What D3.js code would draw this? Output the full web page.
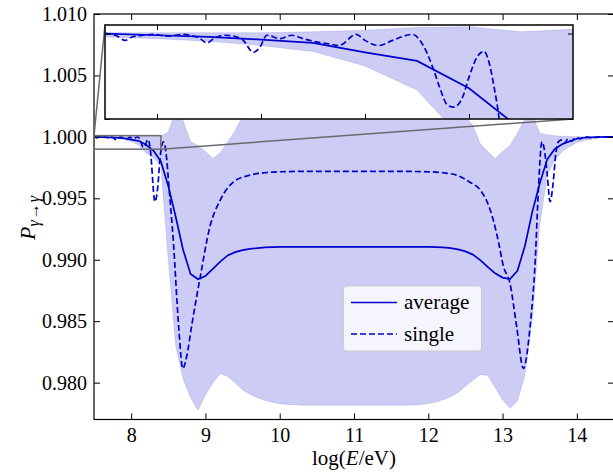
<!DOCTYPE html>
<html>
<meta charset="utf-8">
<style>
  body { margin: 0; background: #fff; }
  svg text { font-family: "Liberation Serif", "DejaVu Serif", serif; fill: #000; }
</style>
<body>
<script src="https://cdn.jsdelivr.net/npm/d3@7"></script>
<script>

// log10 of photon energy (grid used for the average and the band)
var logE = [7.5, 7.6, 7.7, 7.8, 7.9, 8.0, 8.1, 8.2, 8.3, 8.4, 8.5, 8.6, 8.7, 8.8, 8.9,
  9.0, 9.1, 9.2, 9.3, 9.4, 9.5, 9.6, 9.7, 9.8, 9.9, 10.0, 10.1, 10.2, 10.3, 10.4,
  10.5, 10.6, 10.7, 10.8, 10.9, 11.0, 11.1, 11.2, 11.3, 11.4, 11.5, 11.6, 11.7, 11.8, 11.9,
  12.0, 12.1, 12.2, 12.3, 12.4, 12.5, 12.6, 12.7, 12.8, 12.9, 13.0, 13.1, 13.2, 13.3, 13.4,
  13.5, 13.6, 13.7, 13.8, 13.9, 14.0, 14.1, 14.2, 14.3, 14.4, 14.5];

var average = [1.00000, 0.99998, 0.99996, 0.99993, 0.99989, 0.99978, 0.99968, 0.99936, 0.99888, 0.99800,
  0.99600, 0.99350, 0.99079, 0.98885, 0.98842, 0.98868, 0.98925, 0.98985, 0.99035, 0.99062,
  0.99078, 0.99088, 0.99095, 0.99100, 0.99103,
  0.99105, 0.99105, 0.99105, 0.99105, 0.99105, 0.99105, 0.99105, 0.99105, 0.99105, 0.99105,
  0.99105, 0.99105, 0.99105, 0.99105, 0.99105, 0.99105, 0.99105, 0.99105, 0.99105, 0.99105, 0.99105,
  0.99103, 0.99100, 0.99094, 0.99084, 0.99068, 0.99042, 0.98997, 0.98942, 0.98890, 0.98855,
  0.98842, 0.98910, 0.99110, 0.99390, 0.99621, 0.99815, 0.99900, 0.99940, 0.99962, 0.99985,
  0.99993, 0.99997, 0.99999, 1.00000, 1.00000];

var bandHigh = [1.00001, 1.00001, 1.00001, 1.00001, 1.00002, 1.00004, 1.00007, 1.00008, 1.00002, 1.00005,
  1.00040, 1.00210, 1.00130, 0.99960, 0.99930, 0.99880, 0.99825, 0.99870, 0.99960, 1.00050,
  1.00170, 1.00260, 1.00310, 1.00340, 1.00355,
  1.00360, 1.00360, 1.00360, 1.00360, 1.00360, 1.00360, 1.00360, 1.00360, 1.00360, 1.00360,
  1.00360, 1.00360, 1.00360, 1.00360, 1.00360, 1.00360, 1.00360, 1.00360, 1.00360, 1.00360, 1.00360,
  1.00355, 1.00340, 1.00305, 1.00250, 1.00170, 1.00090, 0.99945, 0.99880, 0.99825, 0.99880,
  0.99930, 1.00030, 1.00150, 1.00180, 1.00030, 1.00015, 1.00010, 1.00005, 1.00003, 1.00002,
  1.00002, 1.00002, 1.00002, 1.00002, 1.00002];

var bandLow = [0.99996, 0.99994, 0.99991, 0.99986, 0.99979, 0.99962, 0.99934, 0.99868, 0.99830, 0.99765,
  0.99000, 0.98300, 0.98030, 0.97880, 0.97776, 0.97900, 0.98000, 0.98075, 0.98050, 0.98000,
  0.97940, 0.97905, 0.97878, 0.97856, 0.97840,
  0.97829, 0.97823, 0.97820, 0.97816, 0.97816, 0.97816, 0.97816, 0.97816, 0.97816, 0.97816,
  0.97816, 0.97816, 0.97816, 0.97816, 0.97816, 0.97816, 0.97816, 0.97816, 0.97818, 0.97822, 0.97830,
  0.97842, 0.97860, 0.97885, 0.97920, 0.97970, 0.98020, 0.98065, 0.98060, 0.97960, 0.97860,
  0.97790, 0.97850, 0.98060, 0.98520, 0.99280, 0.99690, 0.99810, 0.99880, 0.99920, 0.99955,
  0.99970, 0.99980, 0.99990, 0.99995, 0.99997];

// single realisation, read on its own (finer) points
var singleE = [7.500, 7.520, 7.539, 7.552, 7.574, 7.593, 7.619, 7.651, 7.683, 7.696,
  7.709, 7.728, 7.747, 7.766, 7.785, 7.798, 7.811, 7.837, 7.859, 7.881,
  7.900, 7.930, 7.950, 7.983, 8.000, 8.027, 8.053, 8.091, 8.110, 8.130,
  8.143, 8.159, 8.171, 8.188, 8.200, 8.216, 8.229, 8.239, 8.248, 8.258,
  8.275, 8.295, 8.310, 8.323, 8.340, 8.360, 8.385, 8.410, 8.435, 8.455,
  8.480, 8.500, 8.570, 8.640, 8.695, 8.750, 8.820, 8.930, 9.060, 9.200,
  9.380, 9.600, 9.800, 10.00, 10.50, 11.00, 11.50, 12.00, 12.20, 12.40,
  12.55, 12.70, 12.80, 12.875, 12.95, 13.01, 13.10, 13.19, 13.28, 13.37,
  13.44, 13.48, 13.53, 13.57, 13.60, 13.64, 13.68, 13.72, 13.75, 13.80,
  13.84, 13.88, 13.93, 13.98, 14.05, 14.12, 14.20, 14.30, 14.40, 14.50];

var singleP = [1.00000, 0.99998, 0.99992, 0.99996, 0.99998, 0.99999, 0.99997, 0.99999, 0.99994, 0.99989,
  0.99994, 0.99998, 0.99997, 0.99992, 0.99978, 0.99984, 0.99998, 0.99994, 0.99998, 0.99994,
  0.99991, 0.99988, 0.99986, 0.99999, 0.99992, 0.99986, 0.99992, 0.99999, 0.99988, 0.99961,
  0.99938, 0.99916, 0.99914, 0.99926, 0.99949, 0.99973, 0.99979, 0.99965, 0.99938, 0.99900,
  0.99780, 0.99600, 0.99500, 0.99472, 0.99510, 0.99600, 0.99800, 0.99920, 0.99960, 0.99930,
  0.99811, 0.99660, 0.99133, 0.98454, 0.98115, 0.98220, 0.98482, 0.98861, 0.99268, 0.99486,
  0.99635, 0.99689, 0.99708, 0.99716, 0.99720, 0.99720, 0.99720, 0.99716, 0.99708, 0.99685,
  0.99635, 0.99567, 0.99460, 0.99323, 0.99130, 0.98950, 0.98807, 0.98454, 0.98115, 0.98454,
  0.98997, 0.99540, 0.99960, 0.99866, 0.99700, 0.99472, 0.99621, 0.99880, 0.99960, 0.99975,
  0.99950, 0.99985, 0.99965, 0.99995, 0.99985, 1.00000, 0.99992, 1.00000, 0.99997, 1.00000];

var xTicks = [8, 9, 10, 11, 12, 13, 14];
var yTicks = [0.980, 0.985, 0.990, 0.995, 1.000, 1.005, 1.010];
var insetXTicks = [7.6, 7.8, 8.0, 8.2];
var insetYTicks = [0.999, 1.000];
var legendLabels = ["average", "single"];

var width = 613, height = 473;
var blue = "#0000cd";

var rows = logE.map(function (e, i) {
  return { e: e, avg: average[i], lo: bandLow[i], hi: bandHigh[i] };
});
var singleRows = singleE.map(function (e, i) { return { e: e, p: singleP[i] }; });

var svg = d3.select("body").append("svg")
  .attr("width", width)
  .attr("height", height);

var defs = svg.append("defs");

var x = d3.scaleLinear().domain([7.5, 14.5]).range([94, 614]);
var y = d3.scaleLinear().domain([0.977, 1.010]).range([419.5, 14]);

var ix = d3.scaleLinear().domain([7.5, 8.4]).range([105, 573]);
var iy = d3.scaleLinear().domain([0.999, 1.0001]).range([119, 25]);

function drawCurves(g, sx, sy, clipId, x0, y0, w, h) {
  defs.append("clipPath").attr("id", clipId)
    .append("rect").attr("x", x0).attr("y", y0).attr("width", w).attr("height", h);
  var layer = g.append("g").attr("clip-path", "url(#" + clipId + ")");

  var band = d3.area()
    .x(function (d) { return sx(d.e); })
    .y0(function (d) { return sy(d.lo); })
    .y1(function (d) { return sy(d.hi); });
  layer.append("path")
    .datum(rows)
    .attr("d", band)
    .attr("fill", blue)
    .attr("fill-opacity", 0.2)
    .attr("stroke", blue)
    .attr("stroke-opacity", 0.12)
    .attr("stroke-width", 1);

  var avgLine = d3.line()
    .x(function (d) { return sx(d.e); })
    .y(function (d) { return sy(d.avg); });
  layer.append("path")
    .datum(rows)
    .attr("d", avgLine)
    .attr("fill", "none")
    .attr("stroke", blue)
    .attr("stroke-width", 1.7);

  var singleLine = d3.line()
    .curve(d3.curveMonotoneX)
    .x(function (d) { return sx(d.e); })
    .y(function (d) { return sy(d.p); });
  layer.append("path")
    .datum(singleRows)
    .attr("d", singleLine)
    .attr("fill", "none")
    .attr("stroke", blue)
    .attr("stroke-width", 1.7)
    .attr("stroke-dasharray", "6,3");
}

// main axes
var main = svg.append("g");
drawCurves(main, x, y, "clipMain", 94, 14, 520, 405.5);

function styleAxis(g) {
  g.select(".domain").remove();
  g.selectAll(".tick line").attr("stroke", "#000").attr("stroke-width", 1);
  g.selectAll(".tick text").style("font-size", "20px");
}

main.append("g")
  .attr("transform", "translate(0,419.5)")
  .call(d3.axisBottom(x).tickValues(xTicks).tickSizeInner(-6).tickSizeOuter(0)
    .tickPadding(8).tickFormat(d3.format("d")))
  .call(styleAxis);
main.append("g")
  .attr("transform", "translate(0,14)")
  .call(d3.axisTop(x).tickValues(xTicks).tickSizeInner(-6).tickSizeOuter(0).tickFormat(""))
  .call(styleAxis);
main.append("g")
  .attr("transform", "translate(94,0)")
  .call(d3.axisLeft(y).tickValues(yTicks).tickSizeInner(-6).tickSizeOuter(0)
    .tickPadding(7).tickFormat(d3.format(".3f")))
  .call(styleAxis);
main.append("g")
  .attr("transform", "translate(614,0)")
  .call(d3.axisRight(y).tickValues(yTicks).tickSizeInner(-6).tickSizeOuter(0).tickFormat(""))
  .call(styleAxis);

main.append("rect")
  .attr("x", 94).attr("y", 14)
  .attr("width", 520).attr("height", 405.5)
  .attr("fill", "none")
  .attr("stroke", "#000")
  .attr("stroke-width", 1.2);

// zoomed region marker and connectors
var grey = "#6a6a6a";
main.append("rect")
  .attr("x", x(7.5)).attr("y", y(1.0001))
  .attr("width", x(8.4) - x(7.5)).attr("height", y(0.999) - y(1.0001))
  .attr("fill", "none")
  .attr("stroke", grey)
  .attr("stroke-width", 1.5);
main.append("line")
  .attr("x1", x(7.5)).attr("y1", y(1.0001))
  .attr("x2", ix(7.5)).attr("y2", iy(1.0001))
  .attr("stroke", grey).attr("stroke-width", 1.5);
main.append("line")
  .attr("x1", x(8.4)).attr("y1", y(0.999))
  .attr("x2", ix(8.4)).attr("y2", iy(0.999))
  .attr("stroke", grey).attr("stroke-width", 1.5);

// inset
var inset = svg.append("g");
inset.append("rect")
  .attr("x", 105).attr("y", 25)
  .attr("width", 468).attr("height", 94)
  .attr("fill", "#fff");
drawCurves(inset, ix, iy, "clipInset", 105, 25, 468, 94);

inset.append("g")
  .attr("transform", "translate(0,119)")
  .call(d3.axisBottom(ix).tickValues(insetXTicks).tickSizeInner(-5).tickSizeOuter(0).tickFormat(""))
  .call(styleAxis);
inset.append("g")
  .attr("transform", "translate(0,25)")
  .call(d3.axisTop(ix).tickValues(insetXTicks).tickSizeInner(-5).tickSizeOuter(0).tickFormat(""))
  .call(styleAxis);
inset.append("g")
  .attr("transform", "translate(105,0)")
  .call(d3.axisLeft(iy).tickValues(insetYTicks).tickSizeInner(-5).tickSizeOuter(0).tickFormat(""))
  .call(styleAxis);
inset.append("g")
  .attr("transform", "translate(573,0)")
  .call(d3.axisRight(iy).tickValues(insetYTicks).tickSizeInner(-5).tickSizeOuter(0).tickFormat(""))
  .call(styleAxis);

inset.append("rect")
  .attr("x", 105).attr("y", 25)
  .attr("width", 468).attr("height", 94)
  .attr("fill", "none")
  .attr("stroke", "#111")
  .attr("stroke-width", 1.6);

// legend
var legend = svg.append("g");
legend.append("rect")
  .attr("x", 343.5).attr("y", 286)
  .attr("width", 138).attr("height", 65)
  .attr("rx", 3)
  .attr("fill", "rgba(255,255,255,0.8)")
  .attr("stroke", "#cccccc")
  .attr("stroke-width", 1);

legend.selectAll(".legend_line")
  .data(legendLabels)
  .enter()
  .append("line")
    .attr("class", "legend_line")
    .attr("x1", 351).attr("x2", 397)
    .attr("y1", function (d, i) { return 302.5 + i * 31.5; })
    .attr("y2", function (d, i) { return 302.5 + i * 31.5; })
    .attr("stroke", blue)
    .attr("stroke-width", 1.7)
    .attr("stroke-dasharray", function (d, i) { return i === 0 ? null : "6,3"; });

legend.selectAll(".legend_text")
  .data(legendLabels)
  .enter()
  .append("text")
    .attr("class", "legend_text")
    .attr("x", 404)
    .attr("y", function (d, i) { return 309 + i * 31.5; })
    .style("font-size", "21px")
    .text(function (d) { return d; });

// axis titles
var xTitle = svg.append("text")
  .attr("x", 354)
  .attr("y", 465)
  .attr("text-anchor", "middle")
  .style("font-size", "21px");
xTitle.append("tspan").text("log(");
xTitle.append("tspan").style("font-style", "italic").text("E");
xTitle.append("tspan").text("/eV)");

var yTitle = svg.append("text")
  .attr("transform", "translate(35,218) rotate(-90)")
  .attr("text-anchor", "middle")
  .style("font-size", "22px");
yTitle.append("tspan").style("font-style", "italic").text("P");
yTitle.append("tspan").attr("dy", 4).style("font-size", "16px").style("font-style", "italic").text("γ");
yTitle.append("tspan").attr("dx", 1).style("font-size", "16px").text("→");
yTitle.append("tspan").attr("dx", 1).style("font-size", "16px").style("font-style", "italic").text("γ");

</script>
</body>
</html>
